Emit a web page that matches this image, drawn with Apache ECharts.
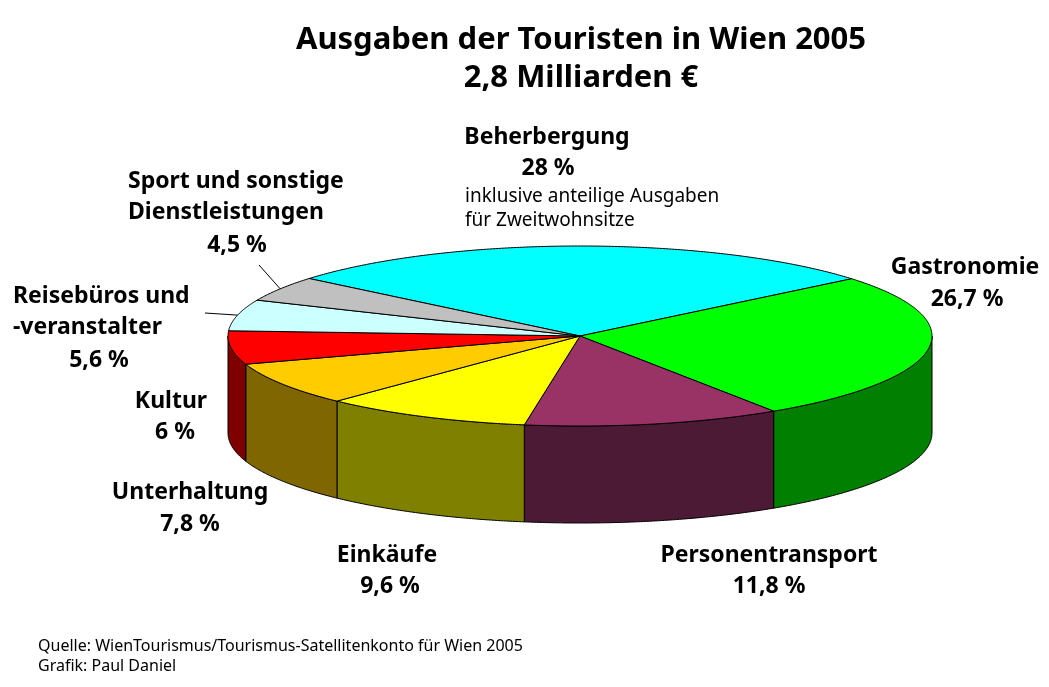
<!DOCTYPE html>
<html>
<head>
<meta charset="utf-8">
<script src="https://cdn.jsdelivr.net/npm/echarts@6/dist/echarts.min.js"></script>
<style>
  html, body { margin: 0; padding: 0; background: #fff; }
  #chart { width: 1049px; height: 687px; }
</style>
</head>
<body>
<div id="chart"></div>
<script>
// Daten
var categories = ['Beherbergung', 'Gastronomie', 'Personentransport', 'Einkäufe', 'Unterhaltung', 'Kultur', 'Reisebüros und\n-veranstalter', 'Sport und sonstige\nDienstleistungen'];
var shares = [28, 26.7, 11.8, 9.6, 7.8, 6, 5.6, 4.5];
var titleText = 'Ausgaben der Touristen in Wien 2005\n2,8 Milliarden €';
var noteText = 'inklusive anteilige Ausgaben\nfür Zweitwohnsitze';
var sourceText = 'Quelle: WienTourismus/Tourismus-Satellitenkonto für Wien 2005\nGrafik: Paul Daniel';

// Farben (Oberseite / Seitenwand)
var topColors = ['#00FFFF', '#00FF00', '#993366', '#FFFF00', '#FFCC00', '#FF0000', '#CCFFFF', '#C0C0C0'];
var sideColors = ['#008080', '#007F00', '#4D1A35', '#7F7F00', '#7F6600', '#7F0000', '#668080', '#606060'];

// Layout der Torte
var CX = 580, CY = 336, RX = 352, RY = 90, DEPTH = 97, START = -140.3;
var FONT = '"Noto Sans", "DejaVu Sans", sans-serif';

// Beschriftungen: [x, y, align] fuer Name, [x, y] fuer Prozent
var nameAt = [[547, 137, 'center'], [965, 267, 'center'], [769, 555, 'center'], [387, 555, 'center'],
  [190, 492, 'center'], [171, 401, 'center'], [13, 312, 'left'], [128, 197, 'left']];
var pctAt = [[548, 168], [967, 299], [769, 586], [390, 586], [190, 524], [175, 432], [99, 360], [237, 245]];
var leaderFrom = { 6: [205, 313], 7: [259, 265] };

var cum = 0;
var sliceData = shares.map(function (v) { var d = [cum, v]; cum += v; return d; });
var total = cum;

function ang(p) { return (START + p / total * 360) * Math.PI / 180; }

function arc(a0, a1, dy) { //Punkte auf der Ellipse
  var n = Math.max(2, Math.ceil(Math.abs(a1 - a0) / (Math.PI / 360)));
  var pts = [];
  for (var i = 0; i <= n; i++) {
    var a = a0 + (a1 - a0) * i / n;
    pts.push([CX + RX * Math.cos(a), CY + RY * Math.sin(a) + dy]);
  }
  return pts;
}

function pctLabel(v) { return String(v).replace('.', ',') + ' %'; }

var graphics = [];
categories.forEach(function (name, i) {
  graphics.push({
    type: 'text', x: nameAt[i][0], y: nameAt[i][1],
    style: { text: name, font: 'bold 23px ' + FONT, fill: '#000', textAlign: nameAt[i][2], textVerticalAlign: 'middle', lineHeight: 31 }
  });
  graphics.push({
    type: 'text', x: pctAt[i][0], y: pctAt[i][1],
    style: { text: pctLabel(shares[i]), font: 'bold 23px ' + FONT, fill: '#000', textAlign: 'center', textVerticalAlign: 'middle' }
  });
  if (leaderFrom[i]) {
    var mid = ang(sliceData[i][0] + sliceData[i][1] / 2);
    graphics.push({
      type: 'line',
      shape: { x1: leaderFrom[i][0], y1: leaderFrom[i][1], x2: CX + RX * Math.cos(mid), y2: CY + RY * Math.sin(mid) },
      style: { stroke: '#000', lineWidth: 1 }
    });
  }
});
graphics.push({
  type: 'text', x: 465, y: 209,
  style: { text: noteText, font: '19px ' + FONT, fill: '#000', textAlign: 'left', textVerticalAlign: 'middle', lineHeight: 24 }
});
graphics.push({
  type: 'text', x: 38, y: 656,
  style: { text: sourceText, font: '16px ' + FONT, fill: '#000', textAlign: 'left', textVerticalAlign: 'middle', lineHeight: 20 }
});

var chart = echarts.init(document.getElementById('chart'));
chart.setOption({
  backgroundColor: '#fff',
  animation: false,
  title: {
    text: titleText,
    left: 576,
    top: 16,
    textAlign: 'center',
    textStyle: { fontFamily: FONT, fontSize: 31, fontWeight: 'bold', color: '#000', lineHeight: 38 }
  },
  graphic: graphics,
  series: [{
    type: 'custom', //Seitenwand
    coordinateSystem: 'none',
    z: 1,
    data: sliceData,
    renderItem: function (params, api) {
      var a0 = ang(api.value(0)), a1 = ang(api.value(0) + api.value(1));
      var lo = Math.max(a0, 0), hi = Math.min(a1, Math.PI);
      if (hi <= lo) return;
      return {
        type: 'polygon',
        shape: { points: arc(lo, hi, 0).concat(arc(hi, lo, DEPTH)) },
        style: { fill: sideColors[params.dataIndex], stroke: '#000', lineWidth: 1 }
      };
    }
  }, {
    type: 'custom', //Oberseite
    coordinateSystem: 'none',
    z: 2,
    data: sliceData,
    renderItem: function (params, api) {
      var a0 = ang(api.value(0)), a1 = ang(api.value(0) + api.value(1));
      return {
        type: 'polygon',
        shape: { points: [[CX, CY]].concat(arc(a0, a1, 0)) },
        style: { fill: topColors[params.dataIndex], stroke: '#000', lineWidth: 1 }
      };
    }
  }]
});
</script>
</body>
</html>
